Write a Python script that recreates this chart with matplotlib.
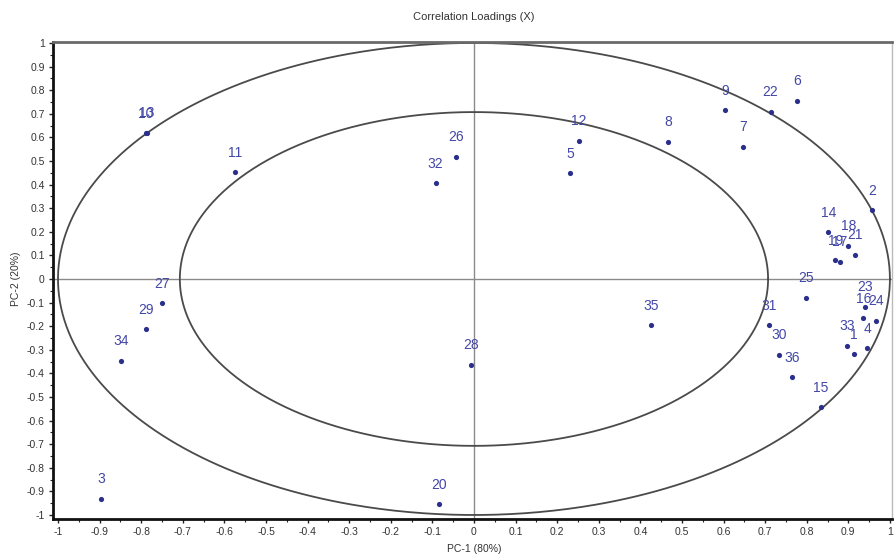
import numpy as np
import matplotlib
matplotlib.use("Agg")
import matplotlib.pyplot as plt
from matplotlib.ticker import MultipleLocator, FuncFormatter

plt.rcParams['font.family'] = ['Liberation Sans', 'DejaVu Sans']

# Correlation loadings of the 36 variables on the first two components
labels = [str(i) for i in range(1, 37)]
pc1 = [0.913, 0.958, -0.896, 0.945, 0.232, 0.777, 0.646, 0.466, 0.603, -0.788,
       -0.574, 0.252, -0.787, 0.852, 0.834, 0.936, 0.880, 0.900, 0.869, -0.084,
       0.917, 0.713, 0.940, 0.966, 0.798, -0.043, -0.749, -0.006, -0.788, 0.734,
       0.710, -0.092, 0.896, -0.849, 0.425, 0.764]
pc2 = [-0.318, 0.292, -0.932, -0.294, 0.448, 0.756, 0.561, 0.581, 0.716, 0.617,
       0.453, 0.586, 0.619, 0.198, -0.544, -0.167, 0.073, 0.141, 0.080, -0.955,
       0.102, 0.709, -0.117, -0.177, -0.079, 0.517, -0.102, -0.363, -0.213, -0.321,
       -0.195, 0.405, -0.283, -0.346, -0.196, -0.417]

title = "Correlation Loadings (X)"
xlabel = "PC-1 (80%)"
ylabel = "PC-2 (20%)"
radii = [1.0, np.sqrt(0.5)]  # 100% and 50% explained variance circles

W, H = 894, 557
fig = plt.figure(figsize=(W / 100, H / 100), dpi=100)
ax = fig.add_axes([53 / W, 1 - 519 / H, (892 - 53) / W, (519 - 42) / H])

# Reference axes through the origin
ax.axhline(0, color='#8a8a8a', lw=1.0, zorder=1)
ax.axvline(0, color='#8a8a8a', lw=1.0, zorder=1)

# Correlation circles
t = np.linspace(0, 2 * np.pi, 721)
for r in radii:
    ax.plot(r * np.cos(t), r * np.sin(t), color='#4a4a4a', lw=1.3, zorder=2)

# Loadings
ax.scatter(pc1, pc2, s=14, color='#2a2f8c', zorder=3, linewidths=0)
for lab, x, y in zip(labels, pc1, pc2):
    ax.annotate(lab, (x, y), xytext=(0, 14), textcoords='offset points',
                ha='center', va='center', fontsize=10, color='#4347a6', zorder=4)

ax.set_xlim(-1.012, 1.005)
ax.set_ylim(-1.017, 1.004)


def tick_fmt(v, pos):
    v = round(v, 2)
    return '0' if abs(v) < 1e-9 else '%g' % v


for axis in (ax.xaxis, ax.yaxis):
    axis.set_major_locator(MultipleLocator(0.1))
    axis.set_minor_locator(MultipleLocator(0.05))
    axis.set_major_formatter(FuncFormatter(tick_fmt))

ax.tick_params(which='major', direction='out', length=3, width=1, colors='#222222',
               labelsize=7.5, labelcolor='#333333', pad=3)
ax.tick_params(which='minor', direction='out', length=2, width=0.8, colors='#222222')
ax.tick_params(axis='x', which='both', top=False)
ax.tick_params(axis='y', which='both', right=False)

ax.spines['left'].set_linewidth(2.0)
ax.spines['left'].set_color('#111111')
ax.spines['bottom'].set_linewidth(2.0)
ax.spines['bottom'].set_color('#111111')
ax.spines['top'].set_linewidth(2.0)
ax.spines['top'].set_color('#6a6a6a')
ax.spines['right'].set_linewidth(1.0)
ax.spines['right'].set_color('#bbbbbb')

fig.text(474 / W, 1 - 17 / H, title, ha='center', va='center', fontsize=8, color='#333333')
fig.text(474 / W, 1 - 549 / H, xlabel, ha='center', va='center', fontsize=7.5, color='#333333')
fig.text(16 / W, 1 - 279 / H, ylabel, ha='center', va='center', fontsize=7.5,
         color='#333333', rotation=90)

fig.savefig('out.png', dpi=100)
